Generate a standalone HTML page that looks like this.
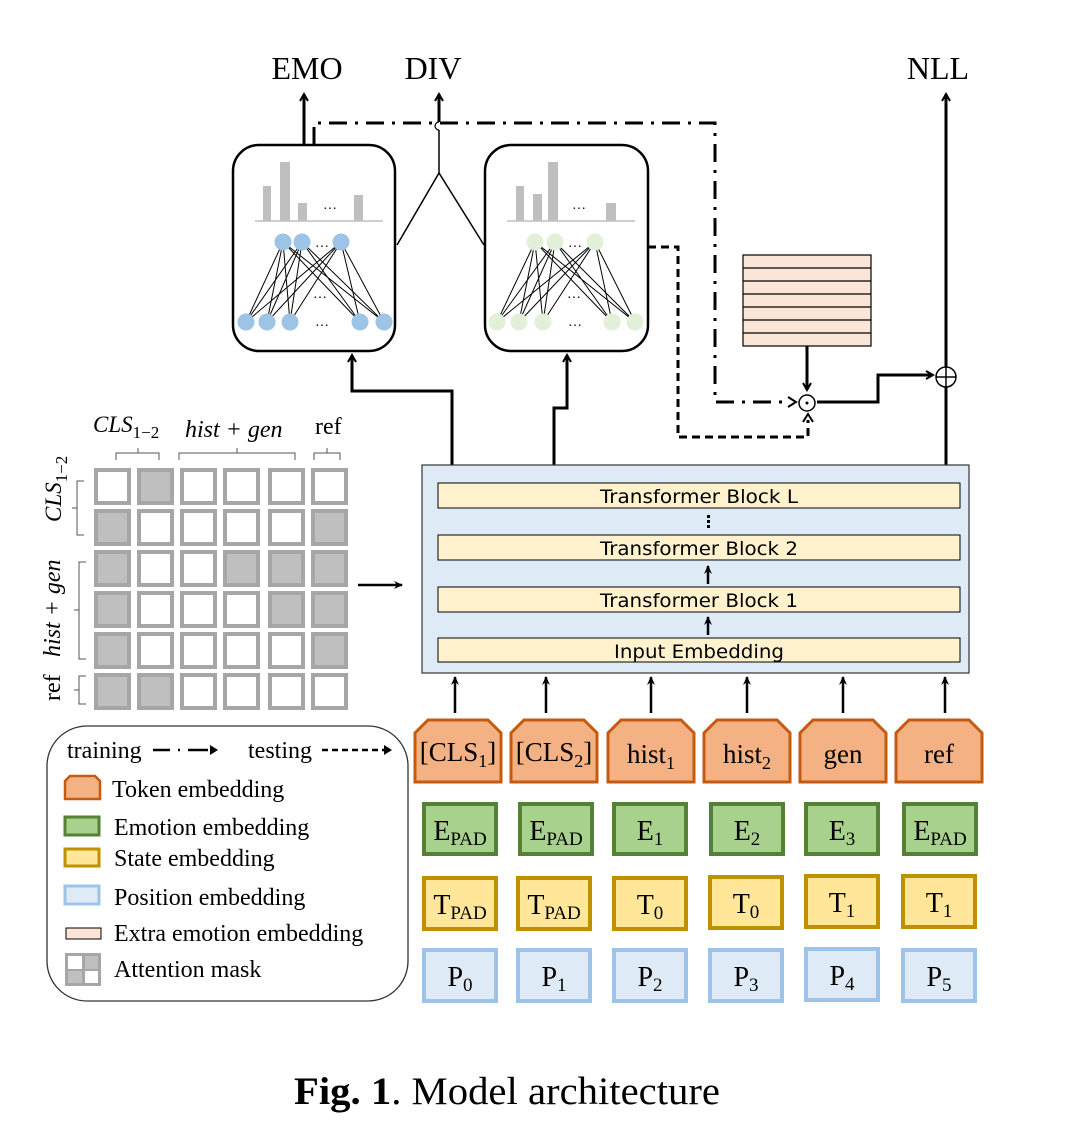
<!DOCTYPE html>
<html><head><meta charset="utf-8"><style>
html,body{margin:0;padding:0;background:#fff;}
svg{display:block;}
.tb{font-family:"Liberation Serif",serif;}
.ss{font-family:"DejaVu Sans","Liberation Sans",sans-serif;}
</style></head><body>
<svg width="1075" height="1134" viewBox="0 0 1075 1134" xmlns="http://www.w3.org/2000/svg">
<defs>
<marker id="ah" markerWidth="10" markerHeight="10" refX="8" refY="5" orient="auto" markerUnits="userSpaceOnUse"><path d="M1,1 L8,5 L1,9" fill="none" stroke="#000" stroke-width="2"/></marker>
<marker id="ahf" markerWidth="10" markerHeight="10" refX="8" refY="5" orient="auto" markerUnits="userSpaceOnUse"><path d="M0,1 L9,5 L0,9 L3,5z" fill="#000"/></marker>
</defs>

<text x="307" y="79" class="tb" font-size="32" text-anchor="middle">EMO</text>
<text x="433" y="79" class="tb" font-size="32" text-anchor="middle">DIV</text>
<text x="938" y="79" class="tb" font-size="32" text-anchor="middle">NLL</text>

<line x1="304" y1="145" x2="304" y2="94" stroke="#000" stroke-width="3" marker-end="url(#ah)"/>
<path d="M397,245 L439,173 L484,245" fill="none" stroke="#000" stroke-width="1.5"/>
<line x1="439" y1="173" x2="439" y2="130" stroke="#000" stroke-width="1.5"/>
<path d="M439,130 A4,4 0 0 1 439,122" fill="none" stroke="#000" stroke-width="1.2"/>
<line x1="439" y1="122" x2="439" y2="94" stroke="#000" stroke-width="3" marker-end="url(#ah)"/>
<path d="M314,145 L314,123 L715,123 L715,402 L790,402" fill="none" stroke="#000" stroke-width="3" stroke-dasharray="18,8,3,8"/>
<path d="M788,397 L796,402 L788,407" fill="none" stroke="#000" stroke-width="2"/>
<path d="M648,247 L678,247 L678,437 L808,437 L808,420" fill="none" stroke="#000" stroke-width="3" stroke-dasharray="8,5"/>
<path d="M803,422 L808,414 L813,422" fill="none" stroke="#000" stroke-width="2"/>

<rect x="233" y="145" width="162" height="206" rx="26" fill="#fff" stroke="#000" stroke-width="2.5"/>
<g fill="#bfbfbf">
<rect x="263" y="186" width="8" height="35"/><rect x="280" y="162" width="10" height="59"/><rect x="298" y="203" width="9" height="18"/><rect x="354" y="195" width="9" height="26"/>
</g>
<line x1="255" y1="221" x2="383" y2="221" stroke="#bfbfbf" stroke-width="1.5"/>
<text x="330" y="209" font-size="14" text-anchor="middle" fill="#000">…</text>
<g stroke="#000" stroke-width="1">
<path d="M283,242L246,322M283,242L267,322M283,242L290,322M283,242L360,322M283,242L384,322
M302,242L246,322M302,242L267,322M302,242L290,322M302,242L360,322M302,242L384,322
M341,242L246,322M341,242L267,322M341,242L290,322M341,242L360,322M341,242L384,322"/>
</g>
<g fill="#9dc3e6">
<circle cx="283" cy="242" r="8.5"/><circle cx="302" cy="242" r="8.5"/><circle cx="341" cy="242" r="8.5"/>
<circle cx="246" cy="322" r="8.5"/><circle cx="267" cy="322" r="8.5"/><circle cx="290" cy="322" r="8.5"/><circle cx="360" cy="322" r="8.5"/><circle cx="384" cy="322" r="8.5"/>
</g>
<text x="322" y="247" font-size="14" text-anchor="middle">…</text>
<text x="320" y="298" font-size="14" text-anchor="middle">…</text>
<text x="322" y="326" font-size="14" text-anchor="middle">…</text>

<rect x="485" y="145" width="163" height="206" rx="26" fill="#fff" stroke="#000" stroke-width="2.5"/>
<g fill="#bfbfbf">
<rect x="516" y="186" width="8" height="35"/><rect x="533" y="194" width="9" height="27"/><rect x="548" y="162" width="10" height="59"/><rect x="606" y="203" width="10" height="18"/>
</g>
<line x1="507" y1="221" x2="635" y2="221" stroke="#bfbfbf" stroke-width="1.5"/>
<text x="579" y="209" font-size="14" text-anchor="middle">…</text>
<g stroke="#000" stroke-width="1">
<path d="M535,242L497,322M535,242L519,322M535,242L543,322M535,242L612,322M535,242L635,322
M555,242L497,322M555,242L519,322M555,242L543,322M555,242L612,322M555,242L635,322
M595,242L497,322M595,242L519,322M595,242L543,322M595,242L612,322M595,242L635,322"/>
</g>
<g fill="#e2efd9">
<circle cx="535" cy="242" r="8.5"/><circle cx="555" cy="242" r="8.5"/><circle cx="595" cy="242" r="8.5"/>
<circle cx="497" cy="322" r="8.5"/><circle cx="519" cy="322" r="8.5"/><circle cx="543" cy="322" r="8.5"/><circle cx="612" cy="322" r="8.5"/><circle cx="635" cy="322" r="8.5"/>
</g>
<text x="575" y="247" font-size="14" text-anchor="middle">…</text>
<text x="574" y="298" font-size="14" text-anchor="middle">…</text>
<text x="575" y="326" font-size="14" text-anchor="middle">…</text>

<path d="M452,465 L452,391 L352,391 L352,355" fill="none" stroke="#000" stroke-width="3" marker-end="url(#ah)"/>
<path d="M554,465 L554,408 L567,408 L567,355" fill="none" stroke="#000" stroke-width="3" marker-end="url(#ah)"/>

<rect x="743" y="255" width="128" height="91" fill="#fbe5d6" stroke="#000" stroke-width="1.2"/>
<g stroke="#000" stroke-width="1.2">
<line x1="743" y1="268" x2="871" y2="268"/><line x1="743" y1="281" x2="871" y2="281"/><line x1="743" y1="294" x2="871" y2="294"/><line x1="743" y1="307" x2="871" y2="307"/><line x1="743" y1="320" x2="871" y2="320"/><line x1="743" y1="333" x2="871" y2="333"/>
</g>
<line x1="807" y1="346" x2="807" y2="390" stroke="#000" stroke-width="3" marker-end="url(#ah)"/>
<circle cx="807" cy="403" r="8" fill="#fff" stroke="#000" stroke-width="1.5"/>
<circle cx="807" cy="403" r="1.5" fill="#000"/>
<path d="M817,402 L878,402 L878,375 L933,375" fill="none" stroke="#000" stroke-width="3" marker-end="url(#ah)"/>
<line x1="946" y1="465" x2="946" y2="94" stroke="#000" stroke-width="3" marker-end="url(#ah)"/>
<circle cx="946" cy="377" r="10" fill="#fff" stroke="#000" stroke-width="1.5"/>
<line x1="936" y1="377" x2="956" y2="377" stroke="#000" stroke-width="1.5"/>
<line x1="946" y1="367" x2="946" y2="387" stroke="#000" stroke-width="1.5"/>

<rect x="422" y="465" width="547" height="208" fill="#deebf7" stroke="#333" stroke-width="1.2"/>
<g fill="#fff2cc" stroke="#000" stroke-width="1">
<rect x="438" y="483" width="522" height="25"/>
<rect x="438" y="535" width="522" height="25"/>
<rect x="438" y="587" width="522" height="25"/>
<rect x="438" y="638" width="522" height="24"/>
</g>
<g class="ss" font-size="19" text-anchor="middle">
<text x="699" y="503" textLength="198" lengthAdjust="spacingAndGlyphs">Transformer Block L</text>
<text x="699" y="555" textLength="198" lengthAdjust="spacingAndGlyphs">Transformer Block 2</text>
<text x="699" y="607" textLength="198" lengthAdjust="spacingAndGlyphs">Transformer Block 1</text>
<text x="699" y="658" textLength="170" lengthAdjust="spacingAndGlyphs">Input Embedding</text>
</g>
<g fill="#000"><rect x="707" y="515" width="3" height="3"/><rect x="707" y="520" width="3" height="3"/><rect x="707" y="525" width="3" height="3"/></g>
<line x1="708" y1="584" x2="708" y2="566" stroke="#000" stroke-width="2.5" marker-end="url(#ahf)"/>
<line x1="708" y1="635" x2="708" y2="617" stroke="#000" stroke-width="2.5" marker-end="url(#ahf)"/>

<g stroke="#a6a6a6" stroke-width="4">
<rect x="96" y="470" width="33" height="33" fill="#fff"/><rect x="139" y="470" width="33" height="33" fill="#bfbfbf"/><rect x="182" y="470" width="33" height="33" fill="#fff"/><rect x="225" y="470" width="33" height="33" fill="#fff"/><rect x="270" y="470" width="33" height="33" fill="#fff"/><rect x="313" y="470" width="33" height="33" fill="#fff"/>
<rect x="96" y="511" width="33" height="33" fill="#bfbfbf"/><rect x="139" y="511" width="33" height="33" fill="#fff"/><rect x="182" y="511" width="33" height="33" fill="#fff"/><rect x="225" y="511" width="33" height="33" fill="#fff"/><rect x="270" y="511" width="33" height="33" fill="#fff"/><rect x="313" y="511" width="33" height="33" fill="#bfbfbf"/>
<rect x="96" y="552" width="33" height="33" fill="#bfbfbf"/><rect x="139" y="552" width="33" height="33" fill="#fff"/><rect x="182" y="552" width="33" height="33" fill="#fff"/><rect x="225" y="552" width="33" height="33" fill="#bfbfbf"/><rect x="270" y="552" width="33" height="33" fill="#bfbfbf"/><rect x="313" y="552" width="33" height="33" fill="#bfbfbf"/>
<rect x="96" y="593" width="33" height="33" fill="#bfbfbf"/><rect x="139" y="593" width="33" height="33" fill="#fff"/><rect x="182" y="593" width="33" height="33" fill="#fff"/><rect x="225" y="593" width="33" height="33" fill="#fff"/><rect x="270" y="593" width="33" height="33" fill="#bfbfbf"/><rect x="313" y="593" width="33" height="33" fill="#bfbfbf"/>
<rect x="96" y="634" width="33" height="33" fill="#bfbfbf"/><rect x="139" y="634" width="33" height="33" fill="#fff"/><rect x="182" y="634" width="33" height="33" fill="#fff"/><rect x="225" y="634" width="33" height="33" fill="#fff"/><rect x="270" y="634" width="33" height="33" fill="#fff"/><rect x="313" y="634" width="33" height="33" fill="#bfbfbf"/>
<rect x="96" y="675" width="33" height="33" fill="#bfbfbf"/><rect x="139" y="675" width="33" height="33" fill="#bfbfbf"/><rect x="182" y="675" width="33" height="33" fill="#fff"/><rect x="225" y="675" width="33" height="33" fill="#fff"/><rect x="270" y="675" width="33" height="33" fill="#fff"/><rect x="313" y="675" width="33" height="33" fill="#fff"/>
</g>
<line x1="358" y1="585" x2="402" y2="585" stroke="#000" stroke-width="2.5" marker-end="url(#ahf)"/>
<text x="93" y="432" class="tb" font-size="23" font-style="italic">CLS<tspan font-size="17" dy="6" font-style="normal">1−2</tspan></text>
<text x="185" y="437" class="tb" font-size="24" font-style="italic">hist + gen</text>
<text x="315" y="434" class="tb" font-size="24">ref</text>
<g fill="none" stroke="#555" stroke-width="1">
<path d="M116,460 L116,453 L138,453 L138,448 L138,453 L159,453 L159,460"/>
<path d="M179,460 L179,453 L237,453 L237,448 L237,453 L295,453 L295,460"/>
<path d="M314,460 L314,453 L327,453 L327,448 L327,453 L340,453 L340,460"/>
<path d="M84,481 L77,481 L77,508 L72,508 L77,508 L77,535 L84,535"/>
<path d="M86,562 L79,562 L79,610 L74,610 L79,610 L79,659 L86,659"/>
<path d="M86,676 L79,676 L79,690 L74,690 L79,690 L79,704 L86,704"/>
</g>
<text transform="translate(61,522) rotate(-90)" class="tb" font-size="23" font-style="italic">CLS<tspan font-size="17" dy="6" font-style="normal">1−2</tspan></text>
<text transform="translate(60,657) rotate(-90)" class="tb" font-size="24" font-style="italic">hist + gen</text>
<text transform="translate(60,701) rotate(-90)" class="tb" font-size="24">ref</text>

<g stroke="#000" stroke-width="2.5">
<line x1="455" y1="713" x2="455" y2="677" marker-end="url(#ahf)"/>
<line x1="546" y1="713" x2="546" y2="677" marker-end="url(#ahf)"/>
<line x1="651" y1="713" x2="651" y2="677" marker-end="url(#ahf)"/>
<line x1="747" y1="713" x2="747" y2="677" marker-end="url(#ahf)"/>
<line x1="843" y1="713" x2="843" y2="677" marker-end="url(#ahf)"/>
<line x1="945" y1="713" x2="945" y2="677" marker-end="url(#ahf)"/>
</g>

<g fill="#f4b183" stroke="#c55a11" stroke-width="3">
<path d="M415,782 L415,733 L428,720 L488,720 L501,733 L501,782Z"/>
<path d="M511,782 L511,733 L524,720 L584,720 L597,733 L597,782Z"/>
<path d="M608,782 L608,733 L621,720 L681,720 L694,733 L694,782Z"/>
<path d="M704,782 L704,733 L717,720 L777,720 L790,733 L790,782Z"/>
<path d="M800,782 L800,733 L813,720 L873,720 L886,733 L886,782Z"/>
<path d="M896,782 L896,733 L909,720 L969,720 L982,733 L982,782Z"/>
</g>
<g class="tb" font-size="27" text-anchor="middle">
<text x="458" y="761">[CLS<tspan font-size="18" dy="6">1</tspan><tspan dy="-6">]</tspan></text>
<text x="554" y="761">[CLS<tspan font-size="18" dy="6">2</tspan><tspan dy="-6">]</tspan></text>
<text x="651" y="763">hist<tspan font-size="18" dy="6">1</tspan></text>
<text x="747" y="763">hist<tspan font-size="18" dy="6">2</tspan></text>
<text x="843" y="763">gen</text>
<text x="939" y="763">ref</text>
</g>
<g fill="#a9d18e" stroke="#548235" stroke-width="4">
<rect x="424" y="804" width="72" height="50"/><rect x="520" y="804" width="72" height="50"/><rect x="614" y="804" width="72" height="50"/><rect x="711" y="804" width="72" height="50"/><rect x="806" y="804" width="72" height="50"/><rect x="904" y="804" width="72" height="50"/>
</g>
<g fill="#ffe699" stroke="#bf9000" stroke-width="4">
<rect x="424" y="878" width="72" height="51"/><rect x="518" y="878" width="72" height="51"/><rect x="614" y="878" width="72" height="51"/><rect x="710" y="877" width="72" height="51"/><rect x="806" y="876" width="72" height="51"/><rect x="903" y="876" width="72" height="51"/>
</g>
<g fill="#deebf7" stroke="#9dc3e6" stroke-width="4">
<rect x="424" y="950" width="72" height="51"/><rect x="518" y="950" width="72" height="51"/><rect x="614" y="950" width="72" height="51"/><rect x="710" y="950" width="72" height="51"/><rect x="806" y="949" width="72" height="51"/><rect x="903" y="950" width="72" height="51"/>
</g>
<g class="tb" font-size="28" text-anchor="middle">
<text x="460" y="840">E<tspan font-size="19" dy="5">PAD</tspan></text>
<text x="556" y="840">E<tspan font-size="19" dy="5">PAD</tspan></text>
<text x="650" y="840">E<tspan font-size="19" dy="5">1</tspan></text>
<text x="747" y="840">E<tspan font-size="19" dy="5">2</tspan></text>
<text x="842" y="840">E<tspan font-size="19" dy="5">3</tspan></text>
<text x="940" y="840">E<tspan font-size="19" dy="5">PAD</tspan></text>
<text x="460" y="914">T<tspan font-size="19" dy="5">PAD</tspan></text>
<text x="554" y="914">T<tspan font-size="19" dy="5">PAD</tspan></text>
<text x="650" y="914">T<tspan font-size="19" dy="5">0</tspan></text>
<text x="746" y="913">T<tspan font-size="19" dy="5">0</tspan></text>
<text x="842" y="912">T<tspan font-size="19" dy="5">1</tspan></text>
<text x="939" y="912">T<tspan font-size="19" dy="5">1</tspan></text>
<text x="460" y="986">P<tspan font-size="19" dy="5">0</tspan></text>
<text x="554" y="986">P<tspan font-size="19" dy="5">1</tspan></text>
<text x="650" y="986">P<tspan font-size="19" dy="5">2</tspan></text>
<text x="746" y="986">P<tspan font-size="19" dy="5">3</tspan></text>
<text x="842" y="985">P<tspan font-size="19" dy="5">4</tspan></text>
<text x="939" y="986">P<tspan font-size="19" dy="5">5</tspan></text>
</g>

<rect x="47" y="726" width="361" height="275" rx="40" fill="#fff" stroke="#333" stroke-width="1.3"/>
<g class="tb" font-size="24">
<text x="67" y="758">training</text>
<text x="248" y="758">testing</text>
<text x="112" y="797">Token embedding</text>
<text x="114" y="835">Emotion embedding</text>
<text x="114" y="866">State embedding</text>
<text x="114" y="905">Position embedding</text>
<text x="114" y="941">Extra emotion embedding</text>
<text x="114" y="977">Attention mask</text>
</g>
<path d="M153,750 L170,750 M178,750 L180,750 M188,750 L208,750" stroke="#000" stroke-width="2.5"/>
<path d="M210,745 L218,750 L210,755 Z" fill="#000"/>
<line x1="322" y1="750" x2="384" y2="750" stroke="#000" stroke-width="2.5" stroke-dasharray="6,4"/>
<path d="M384,745 L392,750 L384,755 Z" fill="#000"/>
<path d="M65,799 L65,781 L70,776 L95,776 L100,781 L100,799Z" fill="#f4b183" stroke="#c55a11" stroke-width="2.5"/>
<rect x="65" y="817" width="34" height="18" fill="#a9d18e" stroke="#548235" stroke-width="3"/>
<rect x="65" y="849" width="34" height="17" fill="#ffe699" stroke="#bf9000" stroke-width="3"/>
<rect x="65" y="886" width="34" height="18" fill="#deebf7" stroke="#9dc3e6" stroke-width="3"/>
<rect x="66" y="928" width="35" height="11" fill="#fbe5d6" stroke="#000" stroke-width="1"/>
<rect x="65" y="953" width="36" height="33" fill="#a6a6a6"/>
<rect x="68" y="956" width="14" height="13" fill="#fff"/><rect x="85" y="956" width="13" height="13" fill="#bfbfbf"/>
<rect x="68" y="971" width="14" height="12" fill="#bfbfbf"/><rect x="85" y="971" width="13" height="12" fill="#fff"/>

<text x="294" y="1104" class="tb" font-size="39" textLength="426" lengthAdjust="spacingAndGlyphs"><tspan font-weight="bold">Fig. 1</tspan>. Model architecture</text>
</svg>
</body></html>
